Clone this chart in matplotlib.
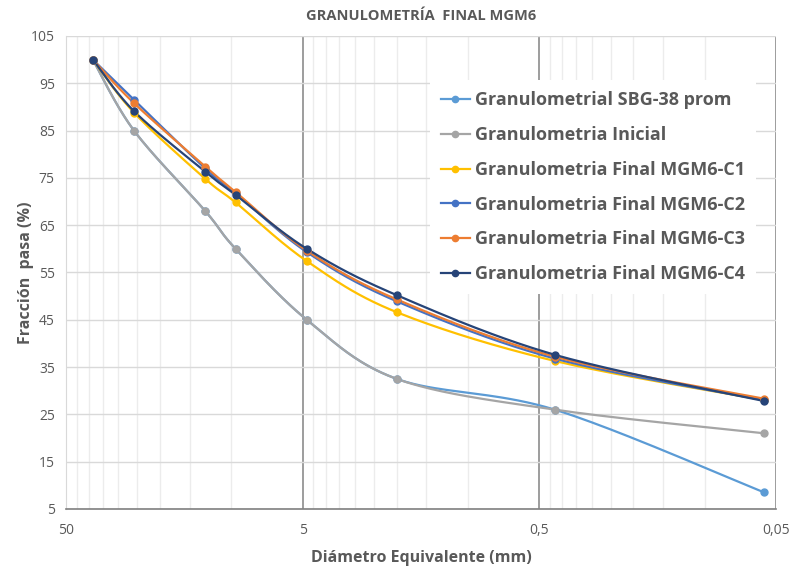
import numpy as np
import matplotlib.pyplot as plt
from matplotlib.ticker import FixedLocator, NullFormatter

plt.rcParams['font.family'] = ['Open Sans', 'DejaVu Sans']

# tamaños de malla (mm)
diam = [38.5, 25.8, 12.9, 9.6, 4.8, 2.0, 0.43, 0.056]

sbg38 = [100, 85.0, 68.0, 60.0, 45.0, 32.5, 26.0, 8.5]
inicial = [100, 85.0, 68.0, 60.0, 45.0, 32.5, 26.0, 21.0]
c1 = [100, 88.8, 74.8, 69.8, 57.4, 46.6, 36.3, 28.0]
c2 = [100, 91.5, 77.0, 71.8, 59.3, 48.9, 36.8, 28.0]
c3 = [100, 90.8, 77.4, 72.0, 59.6, 49.3, 37.2, 28.3]
c4 = [100, 89.1, 76.3, 71.4, 60.0, 50.2, 37.6, 27.8]

names = ['Granulometrial SBG-38 prom', 'Granulometria Inicial',
         'Granulometria Final MGM6-C1', 'Granulometria Final MGM6-C2',
         'Granulometria Final MGM6-C3', 'Granulometria Final MGM6-C4']
colors = ['#5B9BD5', '#A5A5A5', '#FFC000', '#4472C4', '#ED7D31', '#264478']

txt = '#595959'

# escala aproximada en pixeles (para suavizar como excel)
DEC_PX = 237.0
Y_PX = 4.73


def smooth(xs, ys, n=40):
    # catmull-rom en coordenadas de pantalla
    u = -np.log10(np.array(xs, float)) * DEC_PX
    v = np.array(ys, float) * Y_PX
    P = np.column_stack([u, v])
    P = np.vstack([P[0], P, P[-1]])
    out = []
    for i in range(1, len(P) - 2):
        p0, p1, p2, p3 = P[i - 1], P[i], P[i + 1], P[i + 2]
        c1_ = p1 + (p2 - p0) / 6.0
        c2_ = p2 - (p3 - p1) / 6.0
        t = np.linspace(0, 1, n)[:, None]
        seg = ((1 - t) ** 3) * p1 + 3 * ((1 - t) ** 2) * t * c1_ + 3 * (1 - t) * t ** 2 * c2_ + t ** 3 * p2
        out.append(seg if i == 1 else seg[1:])
    out = np.vstack(out)
    return 10 ** (-out[:, 0] / DEC_PX), out[:, 1] / Y_PX


fig = plt.figure(figsize=(7.94, 5.71), dpi=100)
ax = fig.add_axes([0.0831, 0.1086, 0.8942, 0.8284])

series = [sbg38, inicial, c1, c2, c3, c4]
for ys, name, col in zip(series, names, colors):
    sx, sy = smooth(diam, ys)
    ax.plot(sx, sy, color=col, lw=1.6, zorder=3)
    ax.plot(diam, ys, 'o', color=col, ms=5, zorder=4)
    ax.plot([], [], '-o', color=col, lw=1.6, ms=5, label=name)

ax.set_xscale('log')
ax.set_xlim(50, 0.05)
ax.set_ylim(5, 105)

ax.xaxis.set_major_locator(FixedLocator([50, 5, 0.5, 0.05]))
ax.set_xticklabels(['50', '5', '0,5', '0,05'])
minors = [k * d for d in [0.05, 0.5, 5] for k in range(2, 10)]
ax.xaxis.set_minor_locator(FixedLocator(minors))
ax.xaxis.set_minor_formatter(NullFormatter())
ax.set_yticks(np.arange(5, 106, 10))

ax.grid(which='minor', axis='x', color='#ececec', lw=1, zorder=0)
ax.grid(which='major', axis='y', color='#d9d9d9', lw=1, zorder=0)
for xv in [5, 0.5, 0.05]:
    ax.axvline(xv, color='#8c8c8c', lw=1.2, zorder=1)

ax.tick_params(which='both', length=0, labelsize=10, colors=txt, pad=8)
ax.tick_params(axis='x', pad=10)
for s in ['top', 'right']:
    ax.spines[s].set_visible(False)
ax.spines['left'].set_color('#d9d9d9')
ax.spines['bottom'].set_color('#7f7f7f')
ax.spines['bottom'].set_linewidth(1.2)

ax.set_xlabel('Diámetro Equivalente (mm)', fontsize=11.5, fontweight='bold', color=txt, labelpad=9)
ax.set_ylabel('Fracción  pasa (%)', fontsize=11.5, fontweight='bold', color=txt)
ax.yaxis.set_label_coords(-0.045, 0.5)
fig.text(0.53, 0.972, 'GRANULOMETRÍA  FINAL MGM6', ha='center', va='center',
         fontsize=10.5, fontweight='bold', color=txt)

leg = ax.legend(loc='upper left', bbox_to_anchor=(0.5, 0.925), fontsize=13,
                frameon=True, fancybox=False, edgecolor='none', framealpha=1,
                handlelength=1.6, handletextpad=0.3, labelspacing=0.93,
                borderpad=0.6, markerscale=0.9)
for t in leg.get_texts():
    t.set_fontweight('bold')
    t.set_color(txt)
leg.set_zorder(5)

fig.savefig('out.png', dpi=100)
